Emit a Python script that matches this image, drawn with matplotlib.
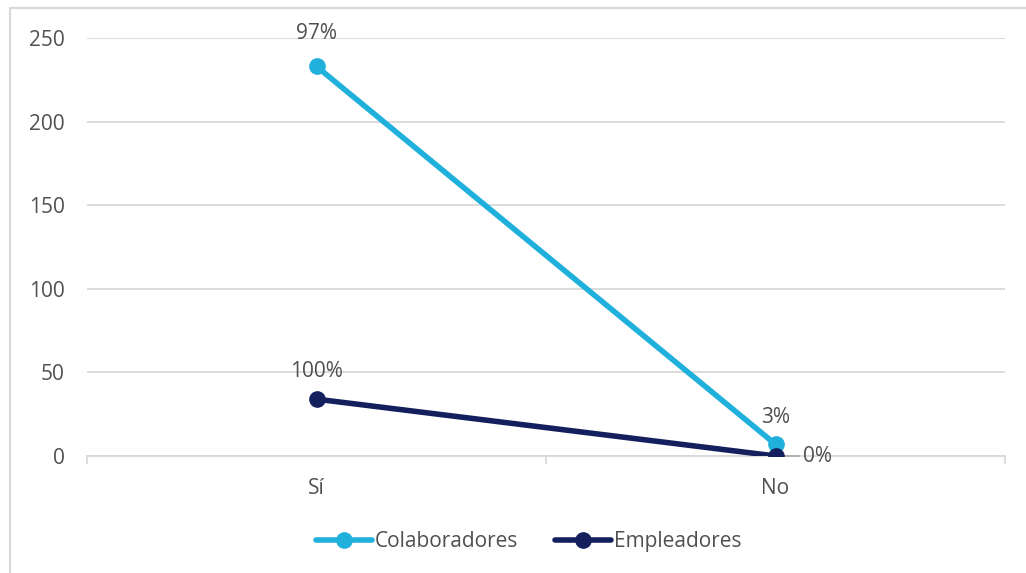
#!/usr/bin/env python3
import matplotlib
matplotlib.use("Agg")
import matplotlib.pyplot as plt
from matplotlib.lines import Line2D

categories = ["Sí", "No"]
colaboradores = [233, 7]
empleadores = [34, 0]
colab_labels = ["97%", "3%"]
emple_labels = ["100%", "0%"]
y_ticks = [0, 50, 100, 150, 200, 250]

plt.rcParams["font.family"] = ["Open Sans", "DejaVu Sans"]
text_color = "#505050"
grid_color = "#d9d9d9"
c_light = "#20b0dc"
c_dark = "#14205e"
fs = 15

fig = plt.figure(figsize=(10.26, 5.73), dpi=100)
ax = fig.add_axes([87 / 1026, 1 - 456 / 573, (1005 - 87) / 1026, (456 - 38) / 573])

x = list(range(len(categories)))
ax.plot(x, colaboradores, color=c_light, lw=4, marker="o", ms=11,
        solid_capstyle="round", label="Colaboradores", zorder=3)
ax.plot(x, empleadores, color=c_dark, lw=4, marker="o", ms=11,
        solid_capstyle="round", label="Empleadores", zorder=4)

ax.set_xlim(-0.5, len(categories) - 0.5)
ax.set_ylim(0, 250)
ax.set_yticks(y_ticks)
ax.set_xticks(x)
ax.set_xticklabels(categories)
ax.tick_params(axis="both", length=0, labelsize=fs, colors=text_color)
ax.tick_params(axis="y", pad=16)
ax.tick_params(axis="x", pad=16)
ax.grid(axis="y", color=grid_color, lw=1.3)
ax.set_axisbelow(True)
for s in ["top", "right", "left"]:
    ax.spines[s].set_visible(False)
ax.spines["bottom"].set_color(grid_color)
ax.spines["bottom"].set_linewidth(1.3)

# category boundary ticks
for b in [-0.5, 0.5, 1.5]:
    ax.plot([b, b], [0, -4], color=grid_color, lw=1.3, clip_on=False, zorder=1)

# data labels
ax.annotate(colab_labels[0], (0, colaboradores[0]), xytext=(0, 16),
            textcoords="offset points", ha="center", va="bottom",
            fontsize=fs, color=text_color)
ax.annotate(colab_labels[1], (1, colaboradores[1]), xytext=(0, 12),
            textcoords="offset points", ha="center", va="bottom",
            fontsize=fs, color=text_color)
ax.annotate(emple_labels[0], (0, empleadores[0]), xytext=(0, 12),
            textcoords="offset points", ha="center", va="bottom",
            fontsize=fs, color=text_color)
ax.annotate(emple_labels[1], (1, empleadores[1]), xytext=(20, 0),
            textcoords="offset points", ha="left", va="center",
            fontsize=fs, color=text_color,
            arrowprops=dict(arrowstyle="-", color="#a6a6a6", lw=1.2,
                            shrinkA=1, shrinkB=0))

leg = ax.legend(loc="center", bbox_to_anchor=(0.481, -0.205), ncol=2,
                frameon=False, fontsize=fs, labelcolor=text_color,
                handlelength=2.7, handletextpad=0.1, columnspacing=1.8)

# chart area border (partially visible)
fig.add_artist(Line2D([10 / 1026, 10 / 1026], [0, 1 - 8 / 573],
                      transform=fig.transFigure, color=grid_color, lw=1.5))
fig.add_artist(Line2D([10 / 1026, 1], [1 - 8 / 573, 1 - 8 / 573],
                      transform=fig.transFigure, color=grid_color, lw=1.5))

fig.savefig("out.png", dpi=100)
